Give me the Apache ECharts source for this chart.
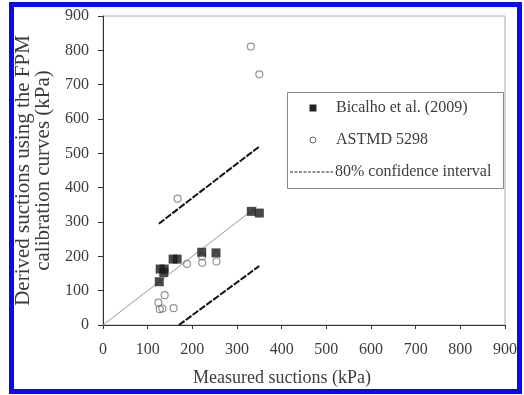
<!DOCTYPE html>
<html>
<head>
<meta charset="utf-8">
<script src="https://cdn.jsdelivr.net/npm/echarts@6/dist/echarts.min.js"></script>
<style>html,body{margin:0;padding:0;background:#fff;}#c{width:524px;height:395px;}</style>
</head>
<body>
<div id="c"></div>
<script>
var xTicks = [0,100,200,300,400,500,600,700,800,900];
var yTicks = [0,100,200,300,400,500,600,700,800,900];

var bicalhoX = [126, 128, 137, 136, 157, 166, 221, 253, 332, 350];
var bicalhoY = [126, 163, 163, 153, 192, 192, 212, 210, 331, 326];

var astmX = [167, 188, 222, 222, 254, 138, 124, 127, 133, 158, 331, 350];
var astmY = [368, 178, 200, 181, 185, 87, 65, 46, 48, 49, 811, 730];

var oneToOneX = [0, 345];
var oneToOneY = [0, 345];
var upperX = [125, 350];
var upperY = [295, 520];
var lowerX = [170, 350];
var lowerY = [0, 172];

var legendNames = ['Bicalho et al. (2009)', 'ASTMD 5298', '80% confidence interval'];
var xTitle = 'Measured suctions (kPa)';
var yTitle = 'Derived suctions using the FPM\ncalibration curves (kPa)';

function zip(a, b) { return a.map(function (v, i) { return [v, b[i]]; }); }

var FONT = "'Liberation Serif', 'Times New Roman', serif";
var TXT = '#3c3c3c';
var chart = echarts.init(document.getElementById('c'), null, {renderer: 'canvas'});
chart.setOption({
  animation: false,
  backgroundColor: '#fff',
  textStyle: {fontFamily: FONT},
  grid: {left: 103, right: 19, top: 16, bottom: 70, show: true, borderColor: '#aaa', borderWidth: 1},
  xAxis: {
    type: 'value', min: 0, max: 900, interval: 100,
    name: xTitle, nameLocation: 'middle', nameGap: 44,
    nameTextStyle: {fontFamily: FONT, fontSize: 18, color: TXT, padding: [0, 44, 0, 0]},
    axisLine: {lineStyle: {color: '#333', width: 1}},
    axisTick: {show: true, inside: false, length: 4, lineStyle: {color: '#333'}},
    axisLabel: {fontFamily: FONT, fontSize: 16, color: TXT, margin: 17,
      formatter: function (v) { return xTicks.indexOf(v) >= 0 ? String(v) : ''; }},
    splitLine: {show: false}
  },
  yAxis: {
    type: 'value', min: 0, max: 900, interval: 100,
    name: yTitle, nameLocation: 'middle', nameGap: 39, nameRotate: 90,
    nameTextStyle: {fontFamily: FONT, fontSize: 21, lineHeight: 20, color: TXT, align: 'center'},
    axisLine: {show: true, lineStyle: {color: '#333', width: 1}},
    axisTick: {show: true, inside: false, length: 5, lineStyle: {color: '#333'}},
    axisLabel: {fontFamily: FONT, fontSize: 16, color: TXT, margin: 14,
      formatter: function (v) { return yTicks.indexOf(v) >= 0 ? String(v) : ''; }},
    splitLine: {show: false}
  },
  series: [
    {type: 'line', data: zip(oneToOneX, oneToOneY), symbol: 'none', lineStyle: {color: '#999', width: 1}, z: 1},
    {type: 'line', data: zip(upperX, upperY), symbol: 'none', lineStyle: {color: '#111', width: 2, type: [7, 1.5]}, z: 2},
    {type: 'line', data: zip(lowerX, lowerY), symbol: 'none', lineStyle: {color: '#111', width: 2, type: [7, 1.5]}, z: 2},
    {name: legendNames[1], type: 'scatter', data: zip(astmX, astmY), symbol: 'circle', symbolSize: 7,
      itemStyle: {color: 'rgba(255,255,255,0)', borderColor: '#777', borderWidth: 1.2}, z: 3},
    {name: legendNames[0], type: 'scatter', data: zip(bicalhoX, bicalhoY), symbol: 'rect', symbolSize: 9,
      itemStyle: {color: '#1a1a1a'}, z: 4}
  ],
  graphic: [
    {type: 'rect', shape: {x: 11.5, y: 4.5, width: 508, height: 387}, style: {fill: null, stroke: '#0a0af0', lineWidth: 5}, z: 100},
    {type: 'group', z: 50, children: [
      {type: 'rect', shape: {x: 287.5, y: 92.5, width: 216, height: 96}, style: {fill: '#fff', stroke: '#888', lineWidth: 1}},
      {type: 'rect', shape: {x: 309.5, y: 104.5, width: 7, height: 7}, style: {fill: '#222'}},
      {type: 'circle', shape: {cx: 313, cy: 140, r: 3}, style: {fill: '#fff', stroke: '#666', lineWidth: 1}},
      {type: 'line', shape: {x1: 290, y1: 172, x2: 333, y2: 172}, style: {stroke: '#222', lineWidth: 1.2, lineDash: [3, 1.5]}},
      {type: 'text', style: {x: 336, y: 108, text: legendNames[0], fontFamily: FONT, fontSize: 16, fill: TXT, verticalAlign: 'middle'}},
      {type: 'text', style: {x: 336, y: 140, text: legendNames[1], fontFamily: FONT, fontSize: 16, fill: TXT, verticalAlign: 'middle'}},
      {type: 'text', style: {x: 335, y: 172, text: legendNames[2], fontFamily: FONT, fontSize: 16, fill: TXT, verticalAlign: 'middle'}}
    ]}
  ]
});
</script>
</body>
</html>
